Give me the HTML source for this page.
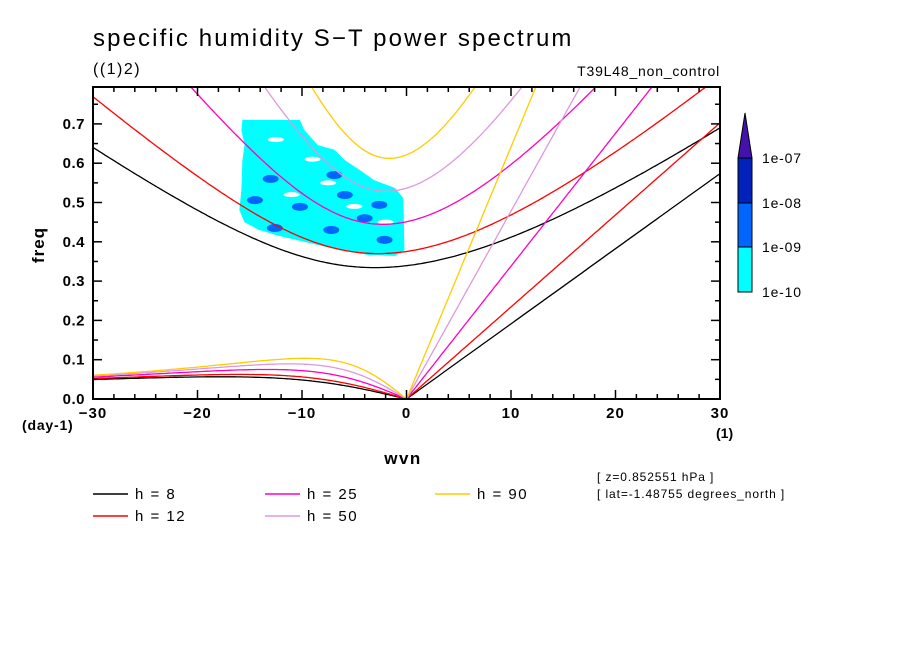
<!DOCTYPE html>
<html><head><meta charset="utf-8"><style>
body{margin:0;background:#fff}
svg text{font-family:"Liberation Sans",sans-serif;fill:#000}
</style></head><body>
<svg id="c" width="904" height="654" viewBox="0 0 904 654">
<text x="93" y="46" font-size="24" letter-spacing="1.6" textLength="480">specific humidity S−T power spectrum</text>
<text x="93" y="74" font-size="16" letter-spacing="1.5">((1)2)</text>
<text x="720" y="76" font-size="14" letter-spacing="0.8" text-anchor="end">T39L48_non_control</text>
<g id="plot"></g>
<text x="44" y="245" font-size="17" letter-spacing="1" transform="rotate(-90 44 245)" text-anchor="middle" font-weight="bold">freq</text>
<text x="403" y="464" font-size="17" letter-spacing="1.5" text-anchor="middle" font-weight="bold">wvn</text>
<text x="22" y="430" font-size="14" letter-spacing="0.8" font-weight="bold">(day-1)</text>
<text x="716" y="438" font-size="14" font-weight="bold">(1)</text>
<text x="597" y="481" font-size="12" letter-spacing="0.9">[ z=0.852551 hPa ]</text>
<text x="597" y="498" font-size="12" letter-spacing="0.9">[ lat=-1.48755 degrees_north ]</text>
<g id="legend"></g>
<g id="cbar"></g>
</svg>
<script>
const depths=[8,12,25,50,90];
const depthColors=['#000000','#ff0000','#ff00c0','#dd99dd','#ffcc00'];
const xTicks=[-30,-20,-10,0,10,20,30];
const yTicks=[0,0.1,0.2,0.3,0.4,0.5,0.6,0.7];
const blobW=[-15.7,-10.2,-9.8,-8.5,-6.9,-5.9,-4.5,-3.1,-1.1,-0.3,-0.2,-1.1,-3.5,-6.4,-9.3,-12.2,-14.1,-15.5,-16.0,-15.8,-15.7,-15.5,-15.8];
const blobF=[0.71,0.71,0.685,0.646,0.634,0.608,0.583,0.557,0.537,0.511,0.379,0.364,0.366,0.379,0.397,0.415,0.43,0.45,0.481,0.532,0.608,0.646,0.684];
const spotW=[-14.5,-12.6,-7.2,-5.9,-6.9,-2.1,-10.2,-2.6,-4.0,-13.0];
const spotF=[0.506,0.435,0.43,0.519,0.57,0.405,0.489,0.494,0.46,0.56];
const holeW=[-12.5,-9.0,-5.0,-2.0,-11.0,-7.5];
const holeF=[0.66,0.61,0.49,0.45,0.52,0.55];
const cbLabels=['1e-10','1e-09','1e-08','1e-07'];
const cbColors=['#00ffff','#0066ff','#0022bb','#4411aa'];

const NS='http://www.w3.org/2000/svg';
const X0=93,X1=720,Y0=399,Y1=87;
const sx=w=>X0+(w+30)/60*(X1-X0);
const sy=f=>Y0-f/0.1*39.3;
const fmax=(Y0-Y1)/393;
function el(t,a,p){const e=document.createElementNS(NS,t);for(const k in a)e.setAttribute(k,a[k]);(p||document.getElementById('plot')).appendChild(e);return e;}

const cpath=el('clipPath',{id:'clp'});
el('rect',{x:X0,y:Y1,width:X1-X0,height:Y0-Y1},cpath);
const g=el('g',{'clip-path':'url(#clp)'});

let d='';blobW.forEach((w,i)=>{d+=(i?'L':'M')+sx(w).toFixed(1)+','+sy(blobF[i]).toFixed(1);});
const blob=el('path',{d:d+'Z',fill:'#00ffff'},g);


holeW.forEach((w,i)=>{const h=el('ellipse',{cx:sx(w),cy:sy(holeF[i]),rx:8,ry:2.5,fill:'#fff'},g);

});
spotW.forEach((w,i)=>{const s=el('ellipse',{cx:sx(w),cy:sy(spotF[i]),rx:8,ry:4,fill:'#0066ff'},g);

});

const beta=2.29e-11,a=6.371e6,cpd=86400/(2*Math.PI);
function ig(k,c){
 const A=c*c*k*k+3*beta*c,B=beta*c*c*k;let lo=Math.sqrt(A)*0.5,hi=Math.sqrt(A)*2+1e-5;
 for(let i=0;i<80;i++){const m=(lo+hi)/2;const f=m*m*m-A*m-B;if(f>0)hi=m;else lo=m;}return (lo+hi)/2;}
depths.forEach((h,j)=>{
 const c=Math.sqrt(9.81*h);let p1='',p2='',p3='';
 for(let i=0;i<=300;i++){const w=-30+i*0.2,k=w/a;
  p1+=(i?'L':'M')+sx(w).toFixed(1)+','+sy(ig(k,c)*cpd).toFixed(1);
  if(w<=0){const r=-beta*k/(k*k+3*beta/c);p2+=(p2?'L':'M')+sx(w).toFixed(1)+','+sy(r*cpd).toFixed(1);}
  else{p3+=(p3?'L':'M')+sx(w).toFixed(1)+','+sy(c*k*cpd).toFixed(1);}
 }
 p3='M'+sx(0)+','+sy(0)+p3.replace(/^M/,'L');
 [[p1,'inertia-gravity'],[p2,'rossby'],[p3,'kelvin']].forEach(([pp,n])=>{
  const l=el('path',{d:pp,fill:'none',stroke:depthColors[j],'stroke-width':1.3},g);
  
  });
});

const fr=el('rect',{x:X0,y:Y1,width:X1-X0,height:Y0-Y1,fill:'none',stroke:'#000','stroke-width':2});


for(let w=-30;w<=30;w+=2){const L=(w%10===0)?9:5;
 el('line',{x1:sx(w),x2:sx(w),y1:Y0,y2:Y0-L,stroke:'#000','stroke-width':1.5});
 el('line',{x1:sx(w),x2:sx(w),y1:Y1,y2:Y1+L,stroke:'#000','stroke-width':1.5});}
for(let f=0;f<=fmax;f+=0.05){const L=(Math.round(f*100)%10===0)?9:5;
 el('line',{x1:X0,x2:X0+L,y1:sy(f),y2:sy(f),stroke:'#000','stroke-width':1.5});
 el('line',{x1:X1,x2:X1-L,y1:sy(f),y2:sy(f),stroke:'#000','stroke-width':1.5});}
xTicks.forEach(w=>{const t=el('text',{x:sx(w),y:418,'font-size':15,'letter-spacing':1,'text-anchor':'middle','font-weight':'bold'});t.textContent=w<0?'−'+(-w):w;

});
yTicks.forEach(f=>{const t=el('text',{x:85,y:sy(f)+5,'font-size':15,'letter-spacing':0.5,'text-anchor':'end','font-weight':'bold'});t.textContent=f.toFixed(1);

});

const lg=document.getElementById('legend');
const lx=[93,93,265,265,435],ly=[494,516,494,516,494];
depths.forEach((h,j)=>{const gg=el('g',{},lg);
 
 
 el('line',{x1:lx[j],x2:lx[j]+35,y1:ly[j],y2:ly[j],stroke:depthColors[j],'stroke-width':1.5},gg);
 const t=el('text',{x:lx[j]+42,y:ly[j]+5,'font-size':15,'letter-spacing':1.5,'xml:space':'preserve'},gg);t.textContent='h = '+(h<10?' ':'')+h;});

const cb=document.getElementById('cbar');
const cby=[292,247,203,158];
for(let i=0;i<3;i++){const r=el('rect',{x:738,y:cby[i+1],width:14,height:cby[i]-cby[i+1],fill:cbColors[i],stroke:'#000','stroke-width':1},cb);
 
 }
const tri=el('path',{d:'M738,158L752,158L745,113Z',fill:cbColors[3],stroke:'#000','stroke-width':1},cb);


cbLabels.forEach((s,i)=>{const t=el('text',{x:762,y:cby[i]+5,'font-size':14,'letter-spacing':0.8},cb);t.textContent=s;
 
 });
</script>
</body></html>
